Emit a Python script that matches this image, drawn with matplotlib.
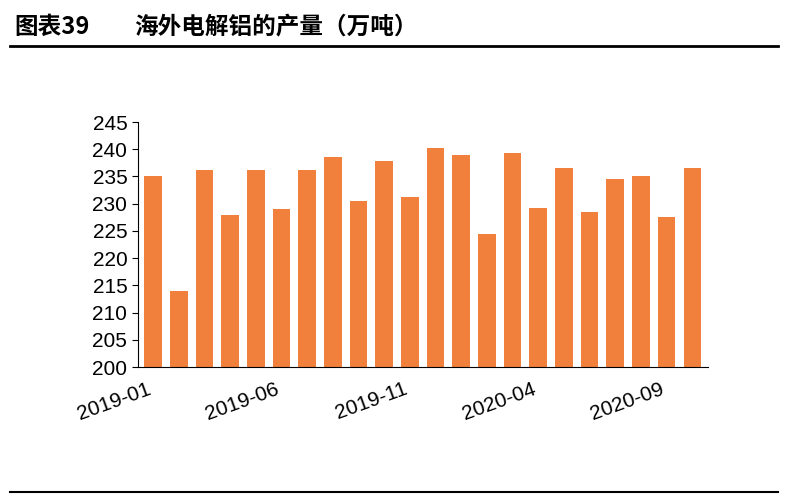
import matplotlib.pyplot as plt
import numpy as np

plt.rcParams['font.family'] = ['Liberation Sans', 'Noto Sans CJK SC', 'DejaVu Sans']

months = ['2019-01', '2019-02', '2019-03', '2019-04', '2019-05', '2019-06', '2019-07', '2019-08',
          '2019-09', '2019-10', '2019-11', '2019-12', '2020-01', '2020-02', '2020-03', '2020-04',
          '2020-05', '2020-06', '2020-07', '2020-08', '2020-09', '2020-10']
output = [235.0, 214.0, 236.2, 228.0, 236.2, 229.0, 236.2, 238.6, 230.5, 237.8, 231.3,
          240.2, 239.0, 224.4, 239.4, 229.3, 236.6, 228.5, 234.6, 235.0, 227.6, 236.6]

fig = plt.figure(figsize=(7.96, 4.96), dpi=100)
ax = fig.add_axes([0.173, 0.26, 0.716, 0.494])

x = np.arange(len(months))
ax.bar(x, output, width=0.68, color='#F0803C')
ax.set_ylim(200, 245)
ax.set_xlim(-0.6, len(months) - 0.4)
ax.set_yticks(range(200, 246, 5))
ax.set_xticks(x[::5])
ax.set_xticklabels(months[::5], rotation=20, ha='right', fontsize=15)
ax.tick_params(axis='y', labelsize=15, direction='out', length=4)
ax.tick_params(axis='x', length=0, pad=9)
for s in ['top', 'right']:
    ax.spines[s].set_visible(False)

# 标题和分隔线
fig.text(0.018, 0.945, '图表39', fontsize=17, fontweight='bold', va='center',
         family=['Noto Sans CJK SC', 'DejaVu Sans'])
fig.text(0.168, 0.945, '海外电解铝的产量（万吨）', fontsize=17, fontweight='bold', va='center',
         family=['Noto Sans CJK SC', 'DejaVu Sans'])
fig.add_artist(plt.Line2D([0.012, 0.978], [0.907, 0.907], color='black', lw=2))
fig.add_artist(plt.Line2D([0.012, 0.978], [0.008, 0.008], color='black', lw=1.5))

fig.savefig('out.png', dpi=100)
